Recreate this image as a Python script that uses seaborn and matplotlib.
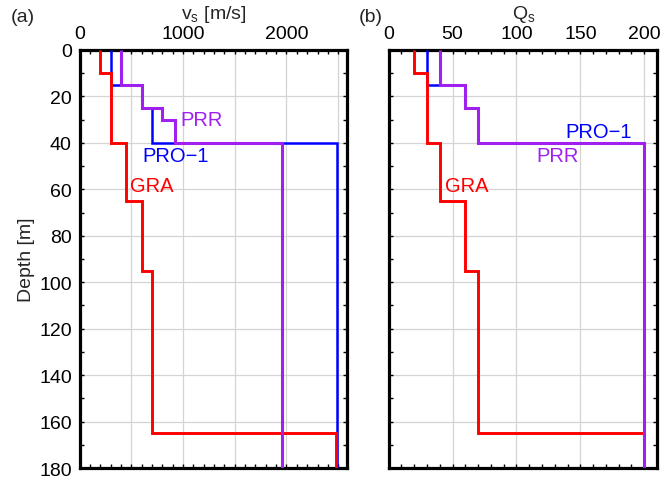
import numpy as np
import pandas as pd
import seaborn as sns
import matplotlib
matplotlib.use("Agg")
import matplotlib.pyplot as plt
from matplotlib.ticker import MultipleLocator, FuncFormatter

# Layered models: layer-top depths [m] (last entry = bottom of model)
gra_depth = [0, 10, 40, 65, 95, 165, 180]
gra_vs = [200, 300, 450, 600, 700, 2480]
gra_qs = [20, 30, 40, 60, 70, 200]

pro_depth = [0, 15, 25, 40, 180]
pro_vs = [300, 600, 700, 2490]
pro_qs = [30, 60, 70, 200]

prr_depth = [0, 15, 25, 30, 40, 180]
prr_vs = [400, 600, 800, 920, 1960]
prr_qs = [40, 60, 70, 70, 200]

models = ["PRO-1", "GRA", "PRR"]
colors = {"PRO-1": "#0000ff", "GRA": "#ff0000", "PRR": "#a020f0"}
widths = {"PRO-1": 1.8, "GRA": 2.1, "PRR": 2.2}


def step_profile(depths, values):
    """Expand a layered model into a staircase (value, depth) path."""
    xs, zs = [], []
    for i, v in enumerate(values):
        xs += [v, v]
        zs += [depths[i], depths[i + 1]]
    return xs, zs


def build_frame(prop):
    rows = []
    src = {
        "GRA": (gra_depth, gra_vs, gra_qs),
        "PRO-1": (pro_depth, pro_vs, pro_qs),
        "PRR": (prr_depth, prr_vs, prr_qs),
    }
    for name in models:
        d, vs, qs = src[name]
        xs, zs = step_profile(d, vs if prop == "vs" else qs)
        for k, (x, z) in enumerate(zip(xs, zs)):
            rows.append({"model": name, "order": k, "value": x, "depth": z})
    return pd.DataFrame(rows)


sns.set_theme(style="white")
plt.rcParams["font.family"] = ["Liberation Sans", "DejaVu Sans"]
plt.rcParams["mathtext.fontset"] = "custom"
plt.rcParams["mathtext.rm"] = "Liberation Sans"
plt.rcParams["mathtext.it"] = "Liberation Sans"

W, H = 661, 481
fig = plt.figure(figsize=(W / 100, H / 100), dpi=100)
ax1 = fig.add_axes([79.5 / W, 12 / H, 267.5 / W, 418 / H])
ax2 = fig.add_axes([388.6 / W, 12 / H, 268.4 / W, 418 / H])

df_vs = build_frame("vs")
df_qs = build_frame("qs")

for ax, df in ((ax1, df_vs), (ax2, df_qs)):
    for name in models:
        sub = df[df["model"] == name]
        sns.lineplot(data=sub, x="value", y="depth", sort=False, estimator=None,
                     color=colors[name], linewidth=widths[name], ax=ax,
                     solid_joinstyle="miter", solid_capstyle="butt", zorder=3)

lab_fs = 14.5
tick_fs = 14

# Labels of the profiles
ax1.text(975, 30, "PRR", color=colors["PRR"], fontsize=lab_fs, va="center", ha="left")
ax1.text(610, 45.5, "PRO\u22121", color=colors["PRO-1"], fontsize=lab_fs, va="center", ha="left")
ax1.text(488, 58.4, "GRA", color=colors["GRA"], fontsize=lab_fs, va="center", ha="left")
ax2.text(138.6, 35.2, "PRO\u22121", color=colors["PRO-1"], fontsize=lab_fs, va="center", ha="left")
ax2.text(116, 45.5, "PRR", color=colors["PRR"], fontsize=lab_fs, va="center", ha="left")
ax2.text(44, 58.4, "GRA", color=colors["GRA"], fontsize=lab_fs, va="center", ha="left")

ax1.set_xlim(0, 2585)
ax2.set_xlim(0, 210)
ax1.xaxis.set_major_locator(MultipleLocator(500))
ax1.xaxis.set_minor_locator(MultipleLocator(100))
ax1.xaxis.set_major_formatter(FuncFormatter(lambda v, p: f"{int(v)}" if v % 1000 == 0 else ""))
ax2.xaxis.set_major_locator(MultipleLocator(50))
ax2.xaxis.set_minor_locator(MultipleLocator(10))

for ax in (ax1, ax2):
    ax.set_ylim(180, 0)
    ax.yaxis.set_major_locator(MultipleLocator(20))
    ax.yaxis.set_minor_locator(MultipleLocator(10))
    ax.grid(True, which="major", color="#d4d4d4", linewidth=0.9, zorder=0)
    ax.set_axisbelow(True)
    ax.xaxis.tick_top()
    ax.tick_params(which="both", direction="in", top=True, bottom=True,
                   left=True, right=True, width=1.0, length=3.2,
                   labelsize=tick_fs, colors="black")
    ax.tick_params(axis="x", which="major", pad=6)
    ax.tick_params(axis="y", which="major", pad=5.5)
    for s in ax.spines.values():
        s.set_linewidth(2.3)
        s.set_color("black")
        s.set_visible(True)
    ax.set_xlabel("")
    ax.set_ylabel("")
    if ax.get_legend() is not None:
        ax.get_legend().remove()

ax2.tick_params(axis="y", labelleft=False)
ax1.set_ylabel("Depth [m]", fontsize=tick_fs, labelpad=3)

# Axis titles above the top tick labels
fig.text(213.5 / W, 1 - 19 / H, r"v$_\mathregular{s}$ [m/s]", fontsize=tick_fs,
         ha="center", va="baseline")
fig.text(524 / W, 1 - 19 / H, r"Q$_\mathregular{s}$", fontsize=tick_fs,
         ha="center", va="baseline")

fig.text(11 / W, 1 - 17.5 / H, "(a)", fontsize=tick_fs, va="center", ha="left")
fig.text(359 / W, 1 - 17.5 / H, "(b)", fontsize=tick_fs, va="center", ha="left")

fig.savefig("out.png", dpi=100, facecolor="white")
